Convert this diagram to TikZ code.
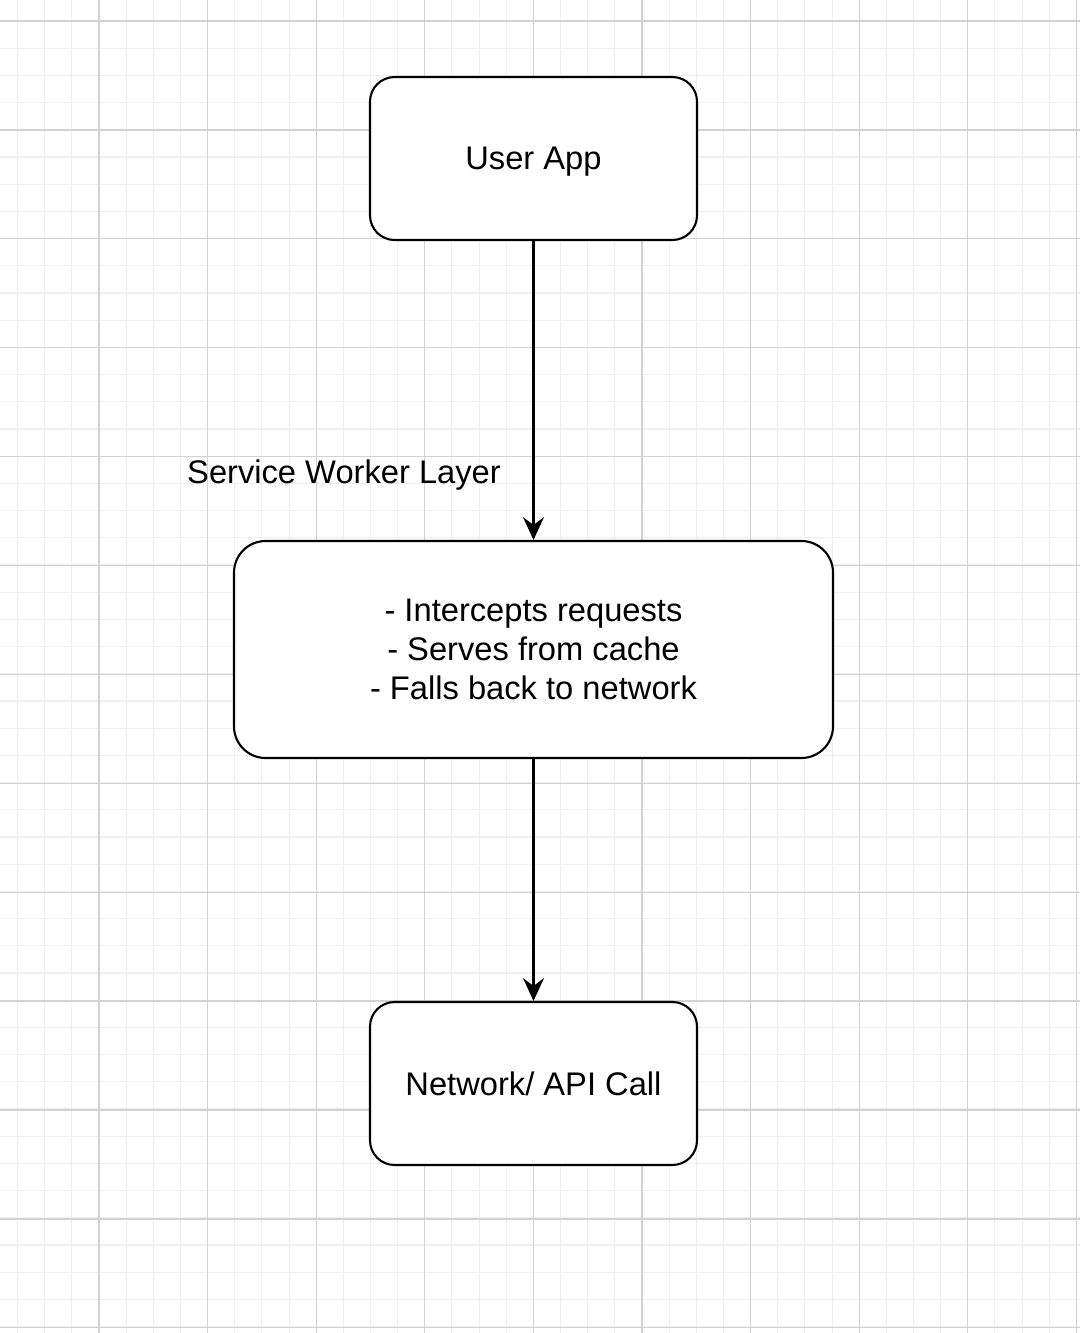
\documentclass[tikz,border=0pt]{standalone}
\usepackage{fontspec}
\setmainfont{Liberation Sans}
\usetikzlibrary{arrows.meta}
\definecolor{minorgrid}{HTML}{EFEFEF}
\definecolor{majorgrid}{HTML}{D2D2D2}
\begin{document}
\begin{tikzpicture}[x=0.02cm,y=-0.02cm,
  box/.style={draw=black,line width=1.2pt,fill=white,rounded corners=14pt,align=center,font=\fontsize{18.6}{22.2}\selectfont,inner sep=0pt},
  conn/.style={line width=1.2pt,-{Stealth[length=13pt,width=12pt,inset=4.5pt]}},
  lbl/.style={font=\fontsize{18.6}{22.2}\selectfont,inner sep=0pt}]
\useasboundingbox (0,0) rectangle (1080,1333);
\fill[white] (0,0) rectangle (1080,1333);
% minor grid
\foreach \i in {-4,...,40} {
  \draw[minorgrid,line width=0.6pt] ({99+27.15*(\i-4)},0) -- ({99+27.15*(\i-4)},1333);
}
\foreach \i in {0,...,50} {
  \draw[minorgrid,line width=0.6pt] (0,{21+27.2*(\i-1)}) -- (1080,{21+27.2*(\i-1)});
}
% major grid
\foreach \i in {0,...,9} {
  \draw[majorgrid,line width=0.7pt] ({99+108.6*\i},0) -- ({99+108.6*\i},1333);
}
\foreach \i in {0,...,12} {
  \draw[majorgrid,line width=0.7pt] (0,{21+108.9*\i}) -- (1080,{21+108.9*\i});
}
\node[box,minimum width=327*0.02cm,minimum height=163*0.02cm,text depth=-4pt] (app) at (533.5,158.5) {User App};
\node[box,minimum width=599*0.02cm,minimum height=217*0.02cm,rounded corners=18pt] (sw) at (533.5,649.5) {- Intercepts requests\\- Serves from cache\\- Falls back to network};
\node[box,minimum width=327*0.02cm,minimum height=163*0.02cm] (net) at (533.5,1083.5) {Network/ API Call};
\node[lbl] (swl) at (344,475) {Service Worker Layer};
\draw[conn] (app) -- (sw);
\draw[conn] (sw) -- (net);
\end{tikzpicture}
\end{document}
